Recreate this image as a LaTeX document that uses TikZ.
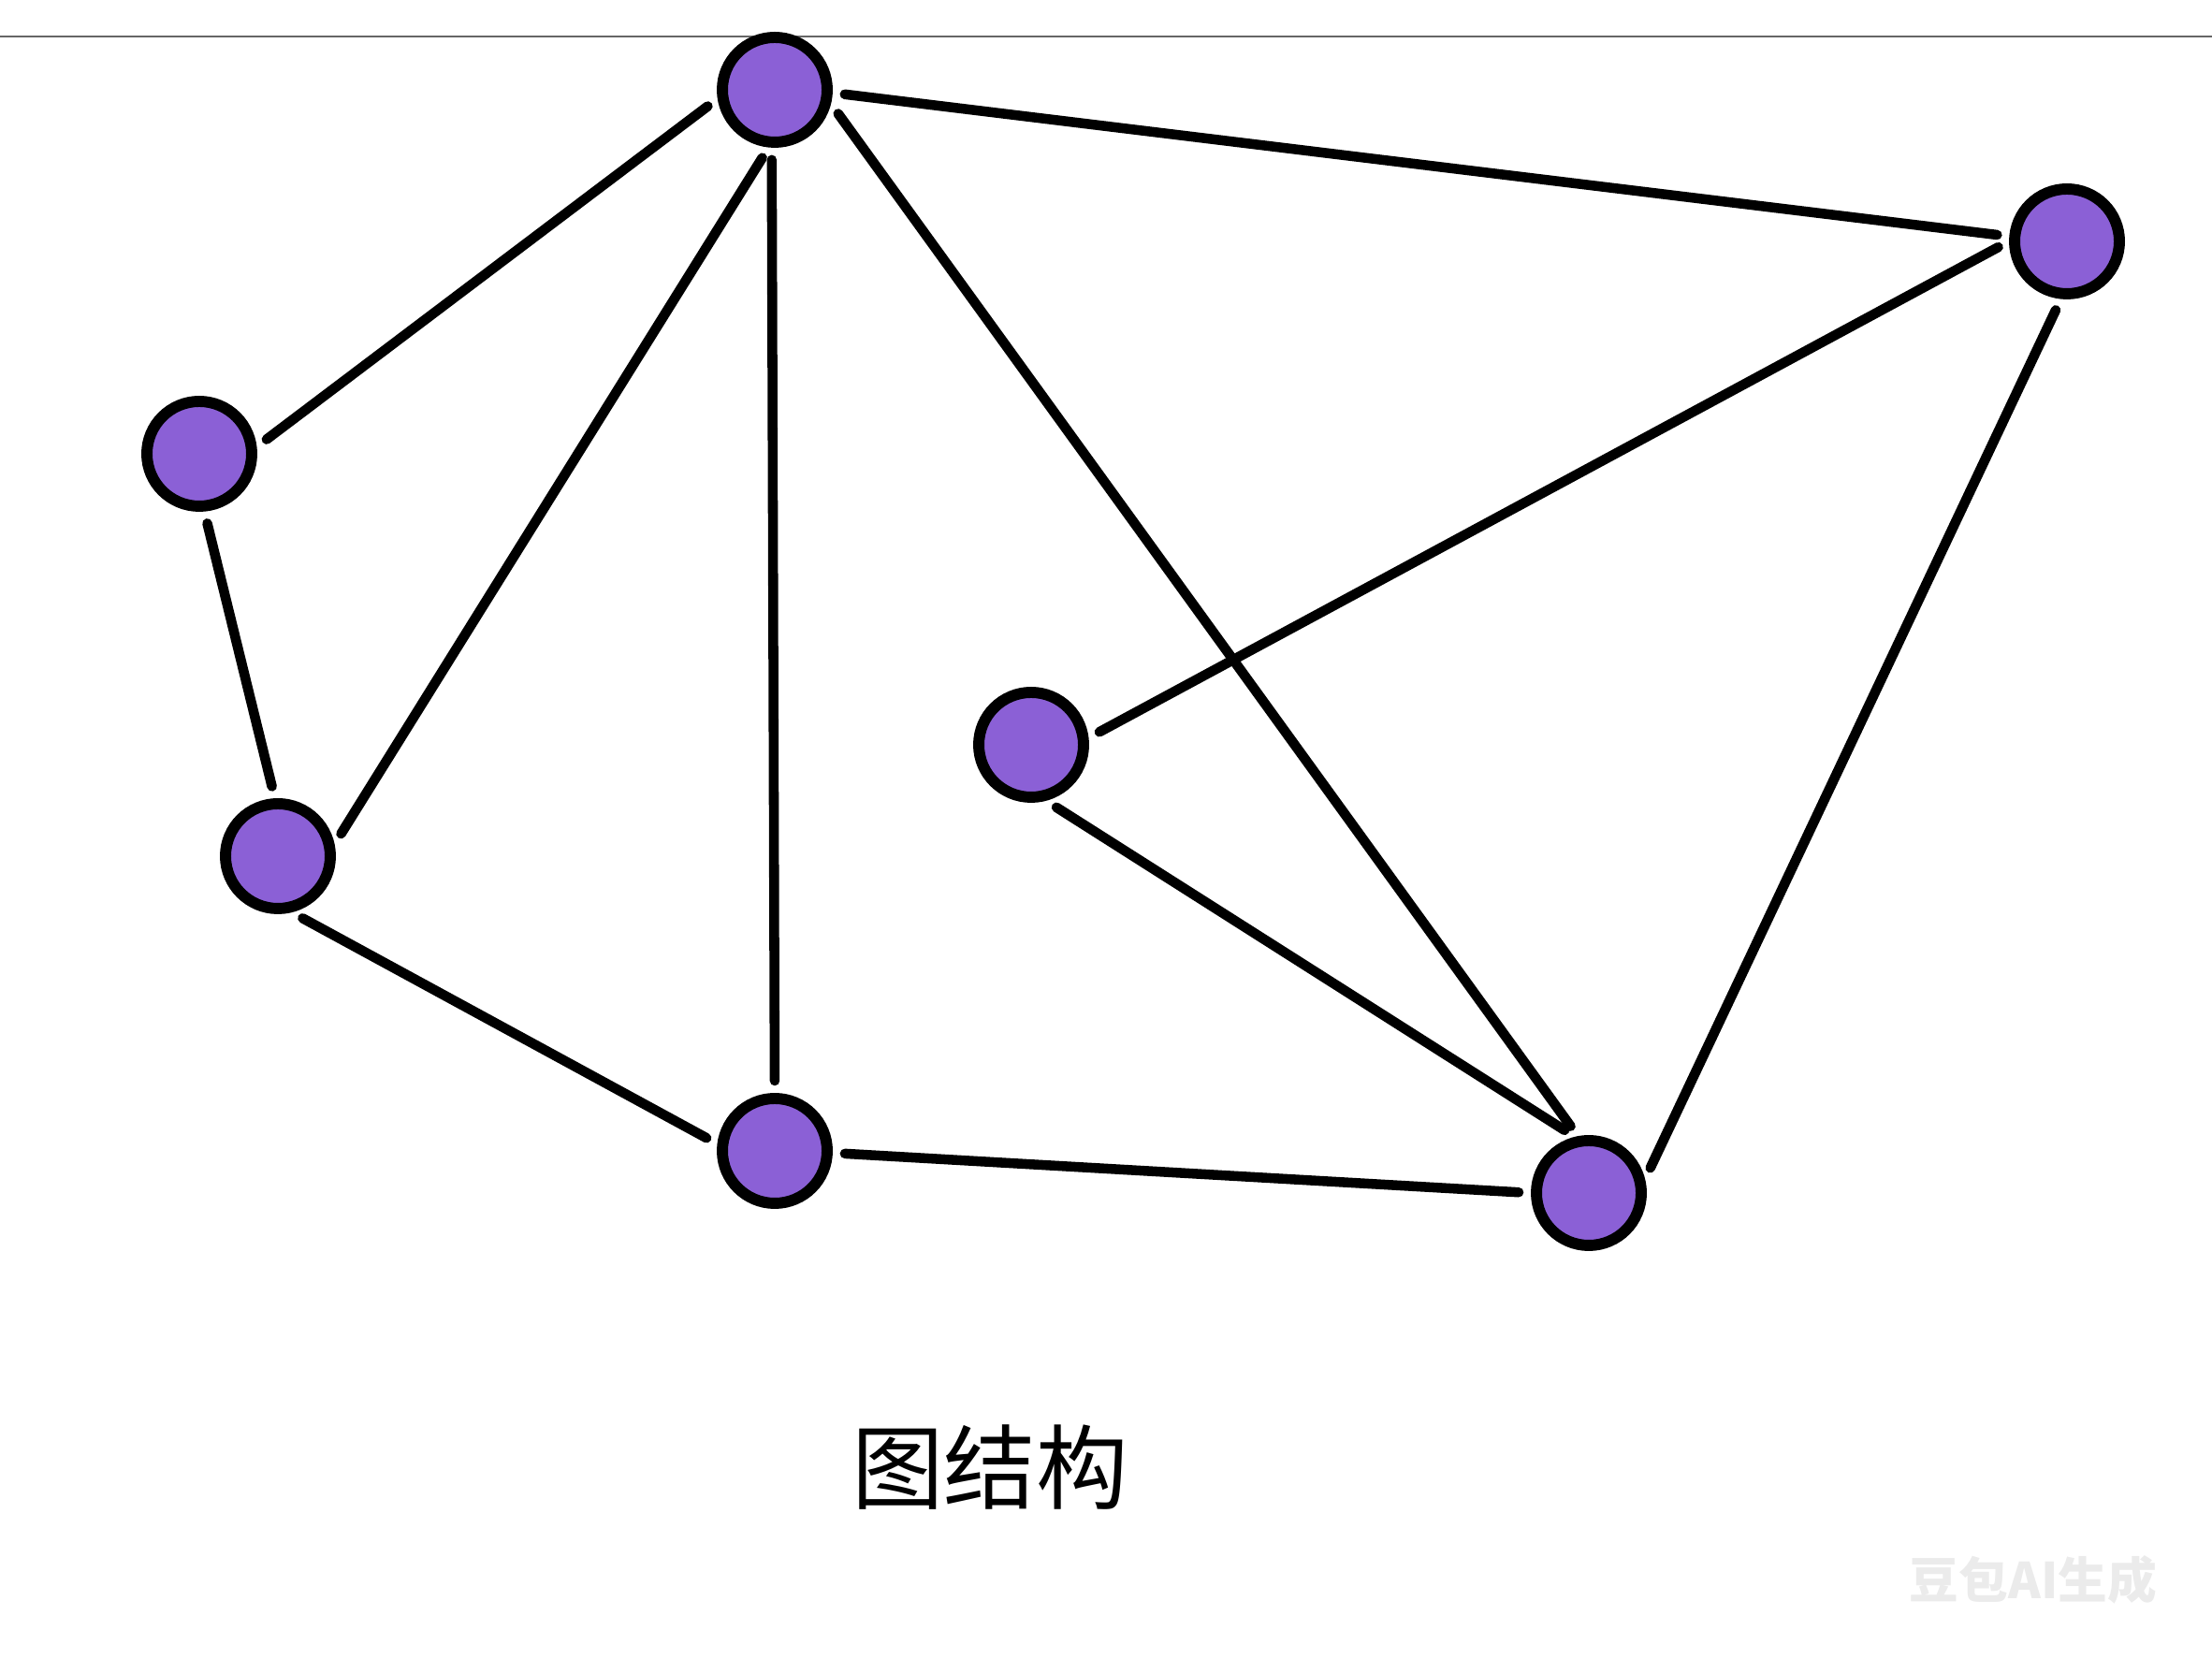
\documentclass[tikz,border=0pt]{standalone}
\usepackage{fontspec}
\newfontfamily\cjk{Noto Sans CJK SC}
\definecolor{vertexfill}{RGB}{139,96,214}

\begin{document}
\begin{tikzpicture}[
    vertex/.style={circle,draw=black,line width=3.4pt,fill=vertexfill,minimum size=1.12cm,inner sep=0pt},
    edge/.style={line width=3pt,line cap=round,shorten <=0.13cm,shorten >=0.13cm}]
  \useasboundingbox (0,0) rectangle (23.64,17.73);
  % thin rule at the top
  \draw[black!60,line width=0.6pt] (0,17.34) -- (23.64,17.34);

  % vertices
  \node[vertex] (top)    at (8.28,16.77) {};
  \node[vertex] (left)   at (2.13,12.88) {};
  \node[vertex] (low)    at (2.97,8.58) {};
  \node[vertex] (bottom) at (8.28,5.43) {};
  \node[vertex] (mid)    at (11.02,9.77) {};
  \node[vertex] (corner) at (16.98,4.98) {};
  \node[vertex] (right)  at (22.09,15.15) {};

  % edges, hand-drawn look: ends aimed a little off centre
  \draw[edge] (top.189) -- (left.7);
  \draw[edge] (top.264) -- (low.12);
  \draw[edge] (top.267) -- (bottom.90);
  \draw[edge] (top.346) -- (corner.101);
  \draw[edge] (top.357) -- (right.175);
  \draw[edge] (left.275) -- (low.93);
  \draw[edge] (low.284) -- (bottom.173);
  \draw[edge] (bottom.358) -- (corner.180);
  \draw[edge] (mid.7) -- (right.180);
  \draw[edge] (mid.285) -- (corner.104);
  \draw[edge] (corner.14) -- (right.264);

  % caption and mark
  \node (caption) at (10.58,2.05) {\cjk\fontsize{28pt}{31pt}\selectfont 图结构};
  \node[text=black!8] (mark) at (21.73,0.85) {\cjk\bfseries\fontsize{15pt}{17pt}\selectfont 豆包AI生成};
\end{tikzpicture}
\end{document}
